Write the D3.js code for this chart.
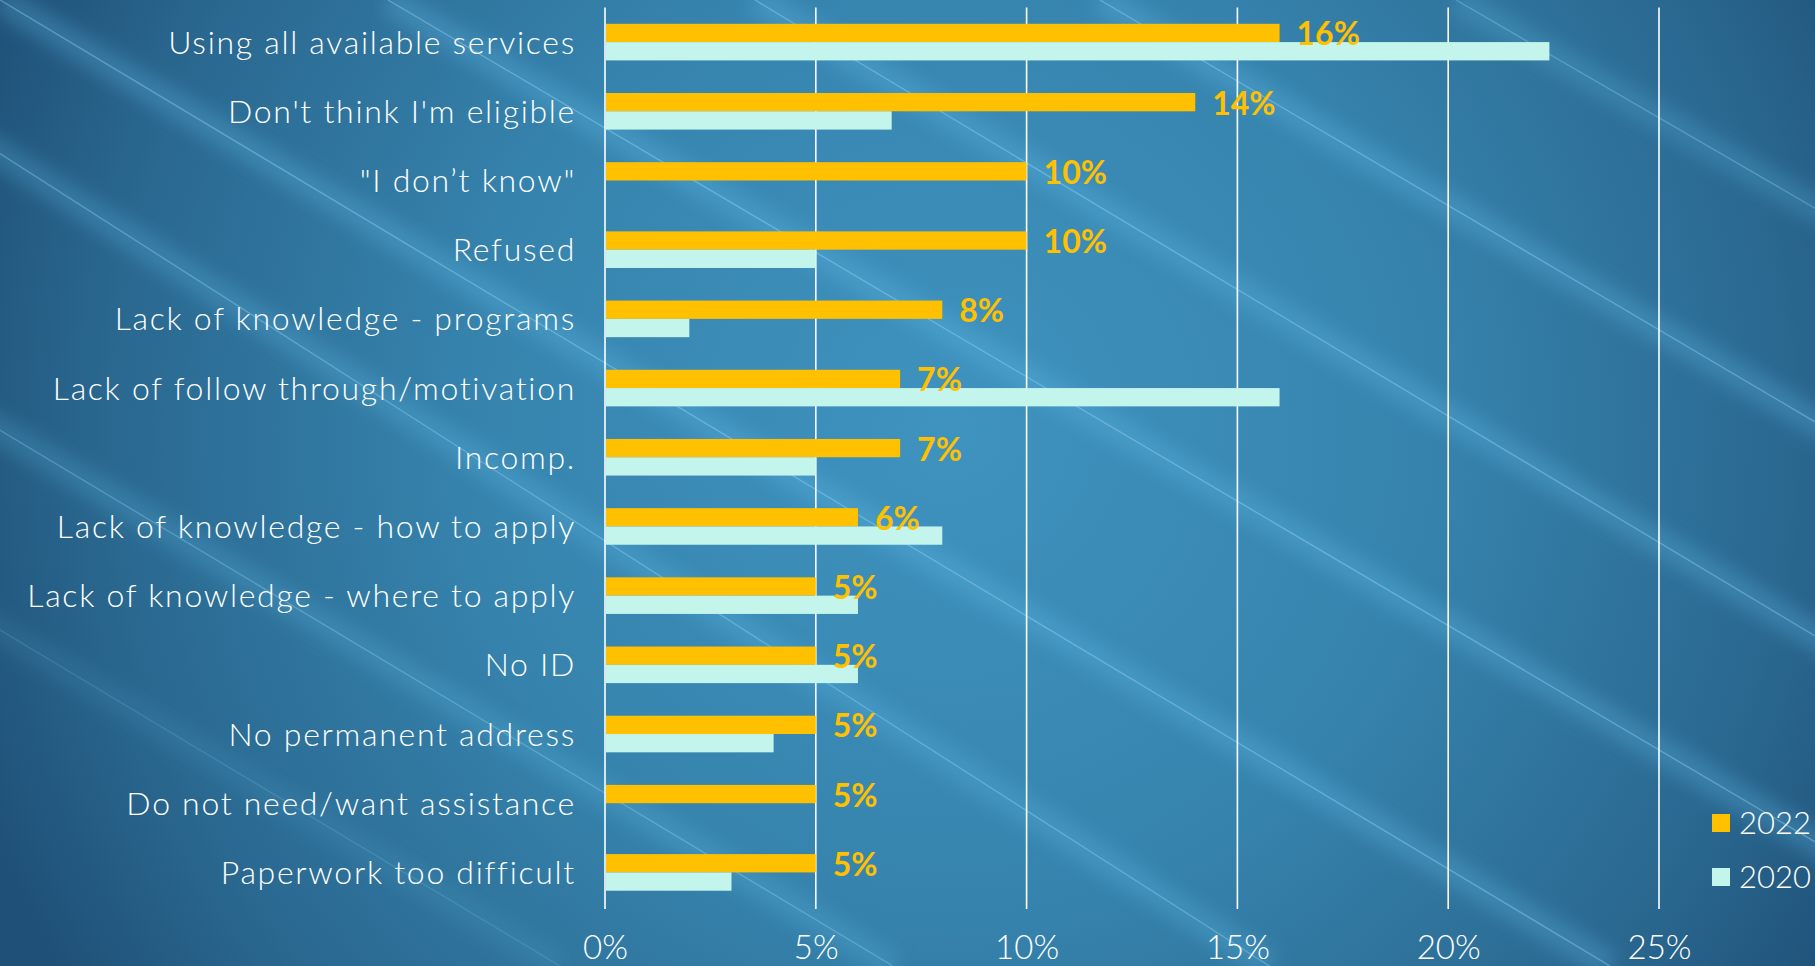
<!DOCTYPE html>
<html>
<head>
<meta charset="utf-8">
<script src="https://cdn.jsdelivr.net/npm/d3@7"></script>
<style>
  html, body { margin: 0; padding: 0; overflow: hidden; background: #2a6a93; }
  svg { display: block; }
</style>
</head>
<body>
<svg id="chart" width="1815" height="966"></svg>
<script>
// Reasons for not using services, share of respondents (%)
const categories = [
  "Using all available services",
  "Don't think I'm eligible",
  "\"I don’t know\"",
  "Refused",
  "Lack of knowledge - programs",
  "Lack of follow through/motivation",
  "Incomp.",
  "Lack of knowledge - how to apply",
  "Lack of knowledge - where to apply",
  "No ID",
  "No permanent address",
  "Do not need/want assistance",
  "Paperwork too difficult"
];
const values2022 = [16, 14, 10, 10, 8, 7, 7, 6, 5, 5, 5, 5, 5];
const values2020 = [22.4, 6.8, 0, 5, 2, 16, 5, 8, 6, 6, 4, 0, 3];
const seriesNames = ["2022", "2020"];
const xTickValues = [0, 5, 10, 15, 20, 25];

// Decorative diagonal light streaks of the slide background: [x at top edge, slope, strength]
const streaks = [[1456, 0.58, 0.8], [1100, 0.59, 1], [755, 0.6, 1], [388, 0.59, 1],
                 [0, 0.6, 1], [-240, 0.64, 0.9], [-717, 0.6, 0.8], [-1050, 0.6, 0.4]];

const W = 1815, H = 966;
const FONT = "Lato, 'Open Sans', 'Noto Sans', sans-serif";
const colors = { "2022": "#FFC000", "2020": "#C3F5EC" };

const svg = d3.select("#chart");
const defs = svg.append("defs");

// Background gradient
const bg = defs.append("radialGradient").attr("id", "bgGrad")
  .attr("gradientUnits", "userSpaceOnUse")
  .attr("cx", 950).attr("cy", 430).attr("r", 1050);
bg.append("stop").attr("offset", 0).attr("stop-color", "#3f93bf");
bg.append("stop").attr("offset", 0.45).attr("stop-color", "#3684ae");
bg.append("stop").attr("offset", 0.8).attr("stop-color", "#2a6890");
bg.append("stop").attr("offset", 1).attr("stop-color", "#1f5077");

const blur = defs.append("filter").attr("id", "soft")
  .attr("x", "-20%").attr("y", "-20%").attr("width", "140%").attr("height", "140%");
blur.append("feGaussianBlur").attr("stdDeviation", 9);

svg.append("rect").attr("width", W).attr("height", H).attr("fill", "url(#bgGrad)");

const streakG = svg.append("g");
streaks.forEach(([x0, k, a]) => {
  const x1 = x0 + H / k;
  streakG.append("line")
    .attr("x1", x0).attr("y1", 0).attr("x2", x1).attr("y2", H)
    .attr("stroke", "#5fbbe8").attr("stroke-opacity", 0.3 * a)
    .attr("stroke-width", 26).attr("filter", "url(#soft)");
  streakG.append("line")
    .attr("x1", x0).attr("y1", 0).attr("x2", x1).attr("y2", H)
    .attr("stroke", "#9fd8f4").attr("stroke-opacity", 0.4 * a)
    .attr("stroke-width", 1.4);
});

// Scales
const x = d3.scaleLinear().domain([0, 25]).range([605, 1659]);
const y = d3.scaleBand().domain(categories).range([7.5, 907])
  .paddingInner(0.471).paddingOuter(0.2355);
const ySub = d3.scaleBand().domain(seriesNames).range([0, y.bandwidth()]);

// Gridlines
svg.append("g").selectAll("line").data(xTickValues).join("line")
  .attr("x1", d => x(d)).attr("x2", d => x(d))
  .attr("y1", 7.5).attr("y2", 909)
  .attr("stroke", "#ffffff").attr("stroke-width", 1.6);

// Bars
const rows = categories.map((c, i) => ({ cat: c, "2022": values2022[i], "2020": values2020[i] }));
const groups = svg.append("g").selectAll("g").data(rows).join("g")
  .attr("transform", d => `translate(0,${y(d.cat)})`);

groups.selectAll("rect").data(d => seriesNames.map(s => ({ s, v: d[s] }))).join("rect")
  .attr("x", x(0) + 1)
  .attr("y", d => ySub(d.s))
  .attr("width", d => Math.max(0, x(d.v) - x(0) - 1))
  .attr("height", ySub.bandwidth())
  .attr("fill", d => colors[d.s]);

// Value labels for 2022
groups.append("text")
  .attr("x", d => x(d["2022"]) + 17)
  .attr("y", ySub("2022") + ySub.bandwidth() / 2 + 12.5)
  .attr("fill", "#FFC000")
  .attr("font-family", FONT).attr("font-weight", 700).attr("font-size", 32)
  .text(d => d3.format(".0f")(d["2022"]) + "%");

// Category axis labels
svg.append("g").selectAll("text").data(categories).join("text")
  .attr("x", 576)
  .attr("y", d => y(d) + y.bandwidth() / 2 + 11.5)
  .attr("text-anchor", "end")
  .attr("fill", "#ffffff")
  .attr("font-family", FONT).attr("font-weight", 300).attr("font-size", 32)
  .attr("letter-spacing", 1.7)
  .text(d => d);

// X axis tick labels
const xAxis = d3.axisBottom(x).tickValues(xTickValues).tickSize(0).tickPadding(0)
  .tickFormat(d => d + "%");
const ax = svg.append("g").attr("transform", "translate(0,934)").call(xAxis);
ax.select(".domain").remove();
ax.selectAll("text")
  .attr("fill", "#ffffff")
  .attr("font-family", FONT).attr("font-weight", 300).attr("font-size", 33)
  .attr("dy", null).attr("y", 24.5);

// Legend
const legend = svg.append("g").selectAll("g").data(seriesNames).join("g")
  .attr("transform", (d, i) => `translate(1712,${814 + i * 54})`);
legend.append("rect").attr("width", 18).attr("height", 18).attr("fill", d => colors[d]);
legend.append("text")
  .attr("x", 27).attr("y", 19.5)
  .attr("fill", "#ffffff")
  .attr("font-family", FONT).attr("font-weight", 300).attr("font-size", 31)
  .text(d => d);
</script>
</body>
</html>
